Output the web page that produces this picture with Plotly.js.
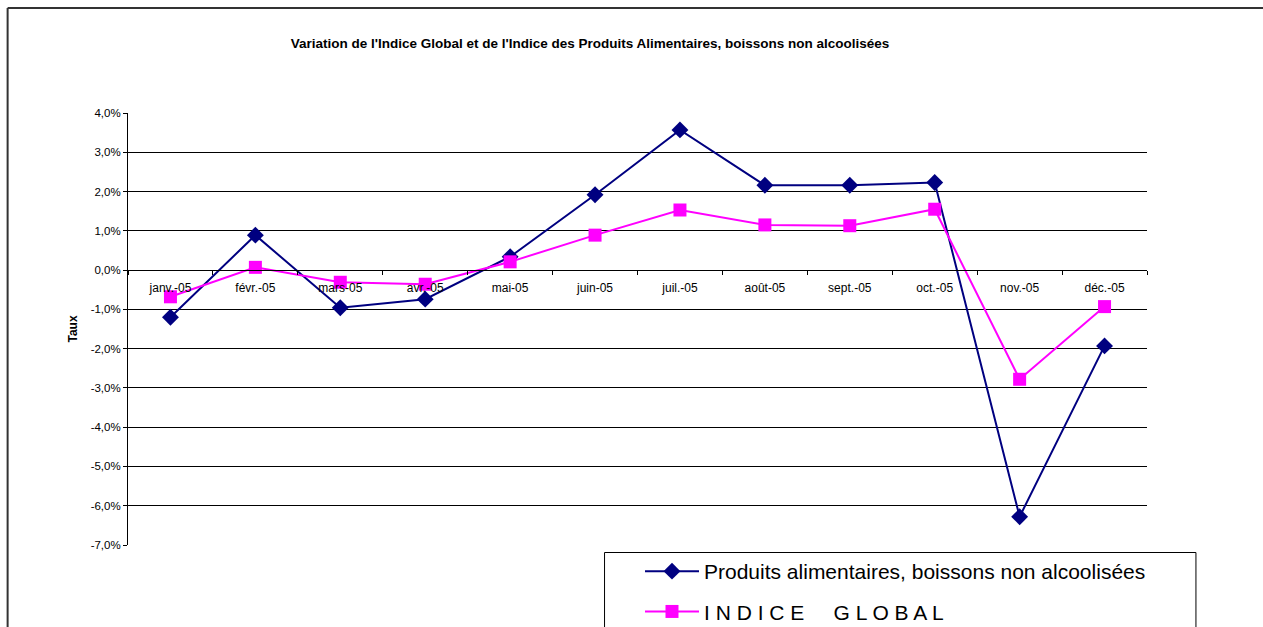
<!DOCTYPE html>
<html>
<head>
<meta charset="utf-8">
<script src="https://cdn.plot.ly/plotly-3.0.1.min.js"></script>
<style>
html,body{margin:0;padding:0;background:#fff;}
#chart{width:1263px;height:627px;}
</style>
</head>
<body>
<div id="chart"></div>
<script>
const months = ["janv.-05","févr.-05","mars-05","avr.-05","mai-05","juin-05","juil.-05","août-05","sept.-05","oct.-05","nov.-05","déc.-05"];
const produits = [-1.20, 0.89, -0.96, -0.74, 0.34, 1.92, 3.57, 2.16, 2.16, 2.23, -6.28, -1.93];
const indiceGlobal = [-0.68, 0.07, -0.31, -0.36, 0.21, 0.89, 1.53, 1.15, 1.13, 1.55, -2.78, -0.93];
const yTicks = [4,3,2,1,0,-1,-2,-3,-4,-5,-6,-7];
const yTickText = yTicks.map(v => v.toFixed(1).replace('.', ',') + '%');

const yMin = -7, yMax = 4;
const FONT = "Liberation Sans, Arial, sans-serif";

const traces = [
  {
    x: months, y: produits, type: "scatter", mode: "lines+markers",
    name: "Produits alimentaires, boissons non alcoolisées",
    legendgroup: "a",
    line: {color: "#000080", width: 2},
    marker: {symbol: "diamond", size: 13, color: "#000080"}
  },
  {
    x: months, y: indiceGlobal, type: "scatter", mode: "lines+markers",
    name: "I N D I C E &nbsp; &nbsp; G L O B A L",
    legendgroup: "b",
    line: {color: "#FF00FF", width: 2},
    marker: {symbol: "square", size: 13, color: "#FF00FF"}
  }
];

// paper-coordinate helpers for frame (plot area is 127.5..1147.5 x, 113..545 y)
const L = 127.5, R = 1147.5, T = 113, B = 545;
const px = v => (v - L) / (R - L);
const py = v => (B - v) / (B - T);

const layout = {
  width: 1263, height: 627,
  margin: {l: L, r: 1263 - R, t: T, b: 627 - B, autoexpand: false},
  paper_bgcolor: "#fff", plot_bgcolor: "#fff",
  font: {family: FONT, size: 12, color: "#000"},
  title: {
    text: "<b>Variation de l'Indice Global et de l'Indice des Produits Alimentaires, boissons non alcoolisées</b>",
    font: {family: FONT, size: 13.5, color: "#000"},
    x: 590 / 1263, xref: "container", xanchor: "center",
    y: 1 - 43 / 627, yref: "container", yanchor: "middle"
  },
  xaxis: {
    type: "category",
    categoryorder: "array", categoryarray: months,
    range: [-0.5, 11.5],
    anchor: "free",
    position: (0 - yMin) / (yMax - yMin),
    showline: true, linecolor: "#000", linewidth: 1,
    ticks: "outside", ticklen: 4, tickcolor: "#000",
    tickson: "boundaries",
    ticklabelstandoff: 7,
    showgrid: false, zeroline: false,
    tickfont: {family: FONT, size: 12, color: "#000"}
  },
  yaxis: {
    range: [yMin, yMax],
    tickvals: yTicks, ticktext: yTickText,
    showline: true, linecolor: "#000", linewidth: 1,
    ticks: "outside", ticklen: 4, tickcolor: "#000",
    showgrid: true, gridcolor: "#000", gridwidth: 1,
    zeroline: false,
    tickfont: {family: FONT, size: 11.5, color: "#000"},
    title: {text: "<b>Taux</b>", font: {family: FONT, size: 12, color: "#000"}, standoff: 10}
  },
  showlegend: true,
  legend: {
    x: px(640), y: py(551), xanchor: "left", yanchor: "top",
    xref: "paper", yref: "paper",
    bgcolor: "rgba(0,0,0,0)", borderwidth: 0,
    font: {family: FONT, size: 21, color: "#000"},
    traceorder: "grouped", tracegroupgap: 10,
    itemwidth: 54
  },
  shapes: [
    // outer frame
    {type: "line", xref: "paper", yref: "paper", x0: px(7), x1: px(1266), y0: py(8), y1: py(8), line: {color: "#333", width: 2}},
    {type: "line", xref: "paper", yref: "paper", x0: px(7), x1: px(7), y0: py(8), y1: py(640), line: {color: "#333", width: 2}},
    // legend box
    {type: "rect", xref: "paper", yref: "paper", x0: px(604.5), x1: px(1196.5), y0: py(552.5), y1: py(660), line: {color: "#000", width: 1}, fillcolor: "rgba(0,0,0,0)"}
  ]
};

Plotly.newPlot("chart", traces, layout, {displayModeBar: false, staticPlot: true});
</script>
</body>
</html>
